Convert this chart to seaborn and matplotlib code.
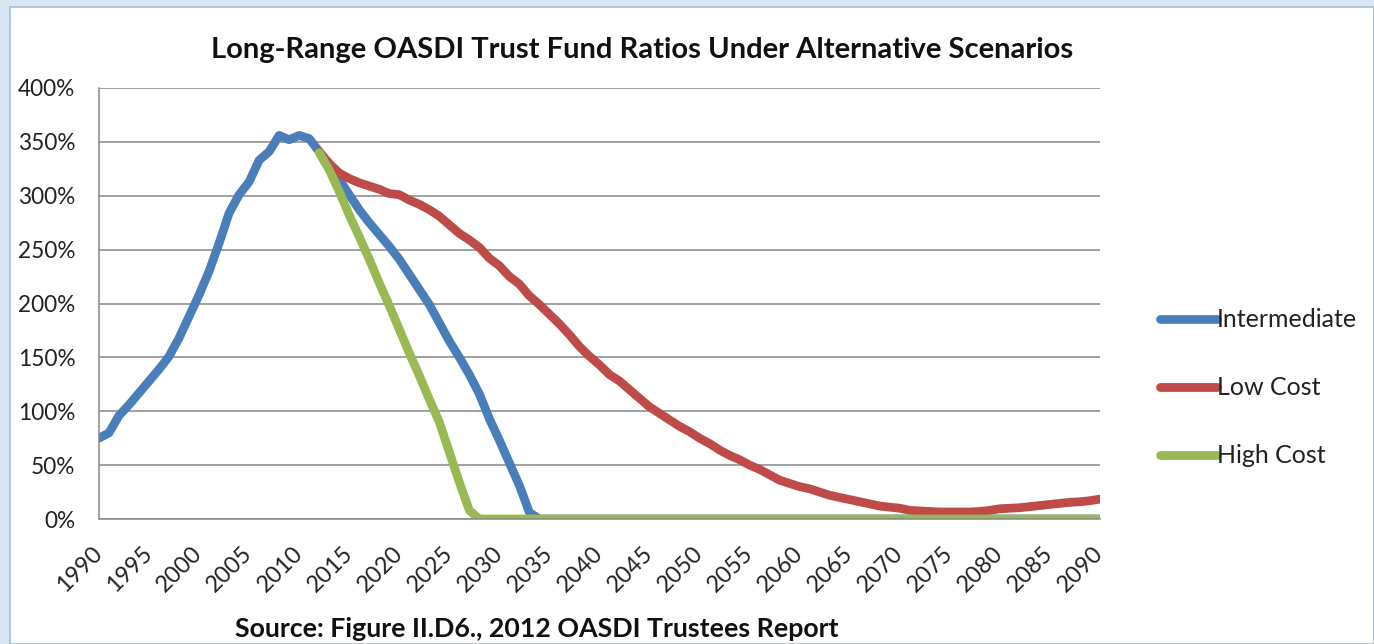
import numpy as np
import pandas as pd
import matplotlib
matplotlib.use("Agg")
import matplotlib.pyplot as plt
import seaborn as sns
from matplotlib.patches import Rectangle
from matplotlib.ticker import MultipleLocator, FuncFormatter

# ---------------- data ----------------
intermediate_years = list(range(1990, 2091))
intermediate_values = [
    75, 80, 96, 106, 117, 128, 139, 151, 168, 188,            # 1990-1999
    208, 230, 256, 284, 301, 313, 333, 341, 356, 352,         # 2000-2009
    356, 353, 341, 327, 315, 301, 287, 275, 264, 253,         # 2010-2019
    241, 227, 213, 199, 182, 165, 150, 134, 116, 93,          # 2020-2029
    73, 52, 31, 6,                                            # 2030-2033
] + [0] * 57                                                  # 2034-2090

low_cost_years = list(range(2012, 2091))
low_cost_values = [
    341, 330, 321, 316, 312, 309, 306, 302,                   # 2012-2019
    301, 296, 292, 287, 281, 273, 265, 259, 252, 242,         # 2020-2029
    235, 225, 218, 207, 199, 190, 181, 171, 160, 151,         # 2030-2039
    143, 134, 128, 120, 112, 104, 98, 92, 86, 81,             # 2040-2049
    75, 70, 64, 59, 55, 50, 46, 41, 36, 33,                   # 2050-2059
    30, 28, 25, 22, 20, 18, 16, 14, 12, 11,                   # 2060-2069
    10, 8, 7.5, 7, 6.5, 6.5, 6.5, 6.5, 7, 8,                  # 2070-2079
    9.5, 10, 10.5, 11.5, 12.5, 13.5, 14.5, 15.5, 16, 17,      # 2080-2089
    18.5,                                                     # 2090
]

high_cost_years = list(range(2012, 2091))
high_cost_values = [
    340, 324, 304, 282, 262, 241, 219, 198,                   # 2012-2019
    176, 154, 133, 111, 90, 62, 34, 8,                        # 2020-2027
] + [0] * 63                                                  # 2028-2090

series_names = ["Intermediate", "Low Cost", "High Cost"]
series_colors = ["#4A7EBB", "#BE4B48", "#98B954"]
y_ticks = [0, 50, 100, 150, 200, 250, 300, 350, 400]
x_label_years = list(range(1990, 2091, 5))

title_text = "Long-Range OASDI Trust Fund Ratios Under Alternative Scenarios"
source_text = "Source: Figure II.D6., 2012 OASDI Trustees Report"

df = pd.concat([
    pd.DataFrame({"Year": intermediate_years, "Ratio": intermediate_values, "Scenario": series_names[0]}),
    pd.DataFrame({"Year": low_cost_years, "Ratio": low_cost_values, "Scenario": series_names[1]}),
    pd.DataFrame({"Year": high_cost_years, "Ratio": high_cost_values, "Scenario": series_names[2]}),
], ignore_index=True)

# ---------------- style ----------------
sns.set_theme(style="white")
plt.rcParams["font.family"] = ["Lato", "DejaVu Sans"]

W, H = 1374, 644
fig = plt.figure(figsize=(W / 100, H / 100), dpi=100)
fig.patch.set_facecolor("#d9e7f5")
fig.patches.append(Rectangle((10 / W, 0), 1 - 10 / W, 637 / H, transform=fig.transFigure,
                             facecolor="white", edgecolor="#a9bdd4", linewidth=1.2, zorder=-5))

ax = fig.add_axes([99 / W, (H - 519) / H, (1100 - 99) / W, (519 - 88) / H])
ax.set_facecolor("none")

sns.lineplot(data=df, x="Year", y="Ratio", hue="Scenario", hue_order=series_names,
             palette=dict(zip(series_names, series_colors)), linewidth=6.3,
             solid_capstyle="round", solid_joinstyle="round", ax=ax, legend=True,
             estimator=None, sort=False)

grid_c = "#878787"
txt_c = "#222222"
ax.set_xlim(1990, 2090)
ax.set_ylim(0, 400)
ax.set_yticks(y_ticks)
ax.yaxis.set_major_formatter(FuncFormatter(lambda v, p: f"{int(v)}%"))
ax.set_xticks(x_label_years)
ax.xaxis.set_minor_locator(MultipleLocator(1))
ax.grid(axis="y", color=grid_c, linewidth=1.1)
ax.set_axisbelow(True)
for s in ["top", "right"]:
    ax.spines[s].set_visible(False)
for s in ["left", "bottom"]:
    ax.spines[s].set_color(grid_c)
    ax.spines[s].set_linewidth(1.1)
ax.tick_params(axis="both", which="both", direction="out", color=grid_c, width=1)
ax.tick_params(axis="x", which="both", length=7.5)
ax.tick_params(axis="y", which="major", length=7, labelsize=16.3, pad=10, labelcolor=txt_c)
ax.tick_params(axis="x", which="major", labelsize=16.8, pad=15, labelcolor=txt_c)
for lab in ax.get_xticklabels():
    lab.set_rotation(45)
    lab.set_ha("right")
    lab.set_va("center")
    lab.set_rotation_mode("anchor")
ax.set_xlabel("")
ax.set_ylabel("")

leg = ax.legend(loc="center left", bbox_to_anchor=(1.037, 0.304), frameon=False,
                fontsize=18, handlelength=2.3, handletextpad=0.0, labelspacing=1.8)
for line in leg.get_lines():
    line.set_linewidth(6.3)
    line.set_solid_capstyle("round")
for t in leg.get_texts():
    t.set_color(txt_c)

fig.text(642 / W, 1 - 50 / H, title_text, ha="center", va="center",
         fontsize=21, fontweight="bold", color="#111111")
fig.text(537 / W, 1 - 629 / H, source_text, ha="center", va="center",
         fontsize=19.3, fontweight="bold", color="#111111")

fig.savefig("out.png", dpi=100, facecolor=fig.get_facecolor())
